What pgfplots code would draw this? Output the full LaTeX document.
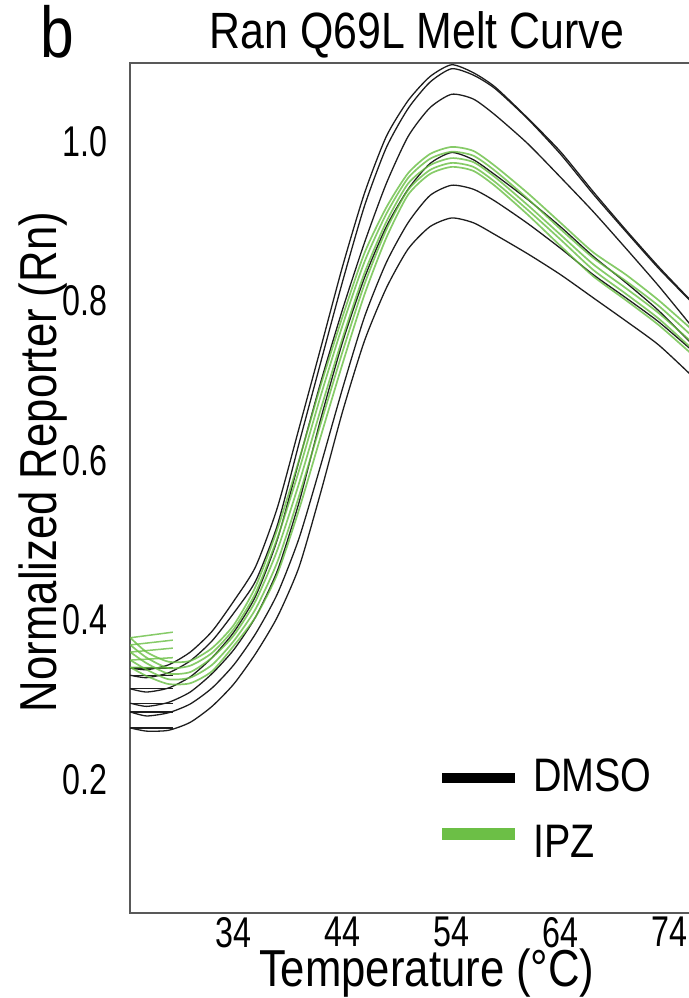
\documentclass[border=0pt]{standalone}
\usepackage{fontspec}
\setmainfont{Liberation Sans}
\newfontfamily\narrowfont{Liberation Sans}[FakeStretch=0.75]
\newfontfamily\midfont{Liberation Sans}[FakeStretch=0.84]
\usepackage{pgfplots}
\pgfplotsset{compat=1.18}

\definecolor{ipz}{RGB}{104,190,66}
\definecolor{ipzleg}{RGB}{108,191,70}
\definecolor{dmso}{RGB}{30,30,30}

\newcommand\tickf{\narrowfont\fontsize{43}{48}\selectfont}
\newcommand\labf{\midfont\fontsize{52}{58}\selectfont}
\newcommand\titf{\midfont\fontsize{51}{56}\selectfont}
\newcommand\legf{\midfont\fontsize{47}{52}\selectfont}

% DMSO wells
\pgfplotstableread{
x    b1    b2    b3    b4    b5    b6
24.5 0.340 0.331 0.314 0.296 0.285 0.265
26   0.338 0.328 0.310 0.292 0.280 0.261
28   0.344 0.334 0.315 0.297 0.284 0.262
30   0.360 0.349 0.329 0.310 0.295 0.272
32   0.386 0.374 0.353 0.333 0.315 0.292
34   0.424 0.409 0.385 0.363 0.344 0.320
36   0.467 0.449 0.430 0.404 0.383 0.358
38   0.541 0.519 0.501 0.462 0.433 0.404
40   0.641 0.622 0.600 0.548 0.503 0.467
42   0.742 0.724 0.699 0.653 0.595 0.561
44   0.844 0.825 0.790 0.749 0.691 0.662
46   0.935 0.919 0.873 0.829 0.780 0.750
48   1.006 0.992 0.947 0.893 0.848 0.816
50   1.051 1.041 1.006 0.940 0.898 0.865
52   1.081 1.074 1.042 0.972 0.932 0.893
54   1.096 1.091 1.059 0.986 0.945 0.904
56   1.086 1.083 1.053 0.977 0.940 0.898
58   1.068 1.066 1.033 0.958 0.925 0.883
61   1.029 1.028 0.997 0.927 0.897 0.859
64   0.987 0.984 0.955 0.893 0.866 0.833
67   0.937 0.934 0.912 0.856 0.833 0.804
70   0.889 0.887 0.866 0.823 0.804 0.775
73   0.843 0.841 0.819 0.788 0.774 0.745
76   0.800 0.799 0.769 0.747 0.739 0.707
}\dmsotab

% IPZ wells
\pgfplotstableread{
x    g1    g2    g3    g4    g5
24.5 0.378 0.369 0.360 0.350 0.341
26   0.360 0.353 0.346 0.338 0.330
28   0.348 0.340 0.333 0.326 0.320
30   0.349 0.343 0.335 0.328 0.321
32   0.365 0.359 0.353 0.344 0.336
34   0.394 0.389 0.381 0.374 0.368
36   0.442 0.434 0.424 0.414 0.404
38   0.514 0.503 0.488 0.473 0.458
40   0.601 0.588 0.572 0.556 0.539
42   0.695 0.682 0.665 0.647 0.631
44   0.781 0.770 0.754 0.737 0.722
46   0.860 0.849 0.835 0.821 0.808
48   0.917 0.909 0.899 0.889 0.879
50   0.960 0.954 0.947 0.939 0.933
52   0.984 0.978 0.970 0.964 0.959
54   0.993 0.987 0.979 0.973 0.968
56   0.988 0.982 0.974 0.968 0.963
58   0.969 0.963 0.955 0.949 0.944
61   0.935 0.928 0.920 0.914 0.908
64   0.898 0.890 0.883 0.877 0.869
67   0.861 0.854 0.846 0.839 0.831
70   0.833 0.825 0.816 0.809 0.801
73   0.801 0.794 0.785 0.778 0.770
76   0.765 0.757 0.749 0.741 0.734
}\ipztab

% short first-read segments at the left edge
\pgfplotstableread{
x    b1    b2    b3    b4    b5    b6    g1    g2    g3    g4    g5
24.5 0.340 0.331 0.314 0.296 0.285 0.265 0.378 0.369 0.360 0.350 0.341
28.4 0.340 0.331 0.314 0.296 0.285 0.265 0.385 0.375 0.365 0.353 0.340
}\stubtab

\begin{document}
\begin{tikzpicture}
\path[use as bounding box] (0pt,0pt) rectangle (688pt,998pt);
\node[font=\midfont\fontsize{72}{76}\selectfont, anchor=base] at (57pt,940pt) {b};
\begin{axis}[
    at={(130pt,85pt)}, anchor=south west,
    scale only axis, width=560pt, height=850pt,
    xmin=24.47, xmax=75.89, ymin=0.0331, ymax=1.0982,
    xtick={34,44,54,64,74},
    ytick={0.2,0.4,0.6,0.8,1.0},
    major tick length=0pt,
    axis line style={draw=black!65, line width=1.4pt},
    /pgf/number format/assume math mode=true,
    xticklabel style={font=\tickf, anchor=north, inner sep=0pt, yshift=-4pt},
    yticklabel style={font=\tickf, anchor=east, inner sep=0pt, xshift=-22pt,
        /pgf/number format/fixed, /pgf/number format/fixed zerofill,
        /pgf/number format/precision=1},
    title={Ran Q69L Melt Curve},
    title style={font=\titf, at={(axis description cs:0.5125,1)}, anchor=base, inner sep=0pt, yshift=8pt},
    xlabel={Temperature (°C)},
    xlabel style={font=\labf, at={(axis description cs:0.530,-0.0870)}, anchor=base, inner sep=0pt},
    ylabel={Normalized Reporter (Rn)},
    ylabel style={font=\labf, at={(axis description cs:-0.1304,0.5306)}, anchor=base, inner sep=0pt},
    dm/.style={draw=dmso, line width=1.3pt, smooth, tension=0.4},
    ip/.style={draw=ipz, line width=1.7pt, opacity=0.8, smooth, tension=0.4},
    dms/.style={draw=dmso, line width=1.2pt},
    ips/.style={draw=ipz, line width=1.5pt, opacity=0.8},
]
\foreach \c in {b1,b2,b3,b4,b5,b6}{
    \addplot[dm] table[x=x, y=\c] {\dmsotab};
    \addplot[dms] table[x=x, y=\c] {\stubtab};
}
\foreach \c in {g1,g2,g3,g4,g5}{
    \addplot[ip] table[x=x, y=\c] {\ipztab};
    \addplot[ips] table[x=x, y=\c] {\stubtab};
}
\end{axis}
% legend
\draw[black, line width=10pt] (442pt,220pt) -- (515pt,220pt);
\node[font=\legf, anchor=base west, inner sep=0pt] at (533pt,206pt) {DMSO};
\draw[ipzleg, line width=12pt] (442pt,164pt) -- (515pt,164pt);
\node[font=\legf, anchor=base west, inner sep=0pt] at (533pt,140pt) {IPZ};
\end{tikzpicture}
\end{document}
